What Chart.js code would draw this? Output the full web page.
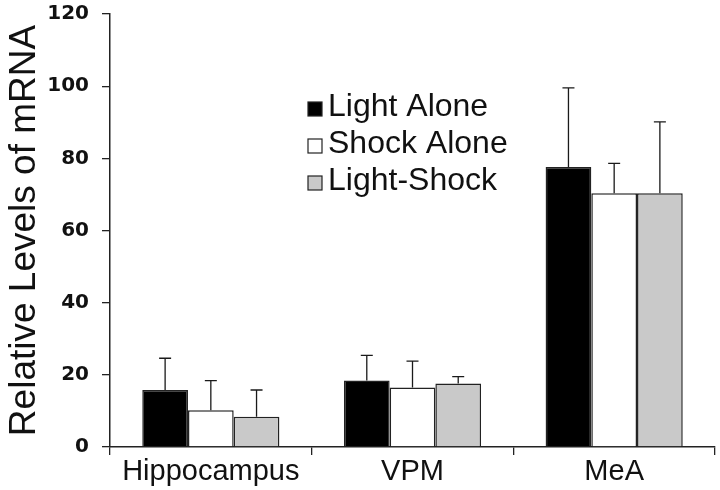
<!DOCTYPE html>
<html>
<head>
<meta charset="utf-8">
<script src="https://cdn.jsdelivr.net/npm/chart.js@4.4.1/dist/chart.umd.min.js"></script>
<style>
  html, body { margin: 0; padding: 0; background: #fff; }
  #wrap { width: 720px; height: 490px; position: relative; }
</style>
</head>
<body>
<div id="wrap"><canvas id="chart-area"></canvas></div>
<script>
var regions = ["Hippocampus", "VPM", "MeA"];
var groups = ["Light Alone", "Shock Alone", "Light-Shock"];
var lightAlone = [15.8, 18.4, 77.6];
var shockAlone = [10.2, 16.5, 70.3];
var lightShock = [8.4, 17.6, 70.3];
var lightAloneErr = [8.8, 7.0, 21.9];
var shockAloneErr = [8.2, 7.3, 8.3];
var lightShockErr = [7.4, 1.9, 19.8];
var yTicks = [0, 20, 40, 60, 80, 100, 120];

var fills = ["#000000", "#ffffff", "#c9c9c9"];
var errs = [lightAloneErr, shockAloneErr, lightShockErr];

// upper-only error bars with a cap
var errorBars = {
  id: 'errorBars',
  afterDatasetsDraw: function(chart) {
    var ctx = chart.ctx;
    var y = chart.scales.y;
    ctx.save();
    ctx.strokeStyle = "#1a1a1a";
    ctx.lineWidth = 1.3;
    chart.data.datasets.forEach(function(ds, i) {
      var meta = chart.getDatasetMeta(i);
      meta.data.forEach(function(bar, j) {
        var top = y.getPixelForValue(ds.data[j] + errs[i][j]);
        ctx.beginPath();
        ctx.moveTo(bar.x, bar.y);
        ctx.lineTo(bar.x, top);
        ctx.moveTo(bar.x - 6, top);
        ctx.lineTo(bar.x + 6, top);
        ctx.stroke();
      });
    });
    ctx.restore();
  }
};

// legend drawn inside the plot, stacked
var boxLegend = {
  id: 'boxLegend',
  afterDraw: function(chart) {
    var ctx = chart.ctx;
    ctx.save();
    ctx.font = "32px 'Liberation Sans', Arial, sans-serif";
    ctx.textBaseline = "alphabetic";
    chart.data.datasets.forEach(function(ds, i) {
      var base = 116 + i * 37;
      ctx.fillStyle = ds.backgroundColor;
      ctx.fillRect(308, base - 14, 14, 14);
      ctx.strokeStyle = "#222";
      ctx.lineWidth = 1.2;
      ctx.strokeRect(308, base - 14, 14, 14);
      ctx.fillStyle = "#111";
      ctx.fillText(ds.label, 328, base);
    });
    ctx.restore();
  }
};

function makeSet(label, data, color) {
  return {
    label: label,
    data: data,
    backgroundColor: color,
    borderColor: "#222",
    borderWidth: 1.5,
    barPercentage: 1.0,
    categoryPercentage: 0.68
  };
}

new Chart(document.getElementById("chart-area"), {
  type: 'bar',
  data: {
    labels: regions,
    datasets: [
      makeSet(groups[0], lightAlone, fills[0]),
      makeSet(groups[1], shockAlone, fills[1]),
      makeSet(groups[2], lightShock, fills[2])
    ]
  },
  options: {
    responsive: true,
    maintainAspectRatio: false,
    animation: false,
    layout: { padding: { left: 0, right: 5, top: 14, bottom: 0 } },
    plugins: {
      legend: { display: false },
      tooltip: { enabled: false }
    },
    scales: {
      x: {
        offset: true,
        grid: { offset: true, drawOnChartArea: false, drawTicks: true, tickLength: 8, color: "#222", lineWidth: 1.3 },
        border: { display: true, color: "#222", width: 1.5 },
        ticks: {
          color: "#111",
          padding: 0,
          font: { family: "'Liberation Sans', Arial, sans-serif", size: 29 }
        },
        afterFit: function(scale) {
          scale.height = 43;
          scale.paddingLeft = 0;
          scale.paddingRight = 0;
        }
      },
      y: {
        min: 0,
        max: 120,
        afterBuildTicks: function(scale) {
          scale.ticks = yTicks.map(function(v) { return { value: v }; });
        },
        grid: { drawOnChartArea: false, drawTicks: true, tickLength: 8, color: "#222", lineWidth: 1.3 },
        border: { display: true, color: "#222", width: 1.5 },
        ticks: {
          color: "#111",
          padding: 13,
          font: { family: "'DejaVu Sans', sans-serif", size: 20, weight: 'bold' }
        },
        title: {
          display: true,
          text: "Relative Levels of mRNA",
          color: "#111",
          padding: { top: 3, bottom: 0 },
          font: { family: "'Liberation Sans', Arial, sans-serif", size: 37 }
        },
        afterFit: function(scale) {
          scale.width = 110;
          scale.paddingTop = 0;
          scale.paddingBottom = 0;
        }
      }
    }
  },
  plugins: [errorBars, boxLegend]
});
</script>
</body>
</html>
